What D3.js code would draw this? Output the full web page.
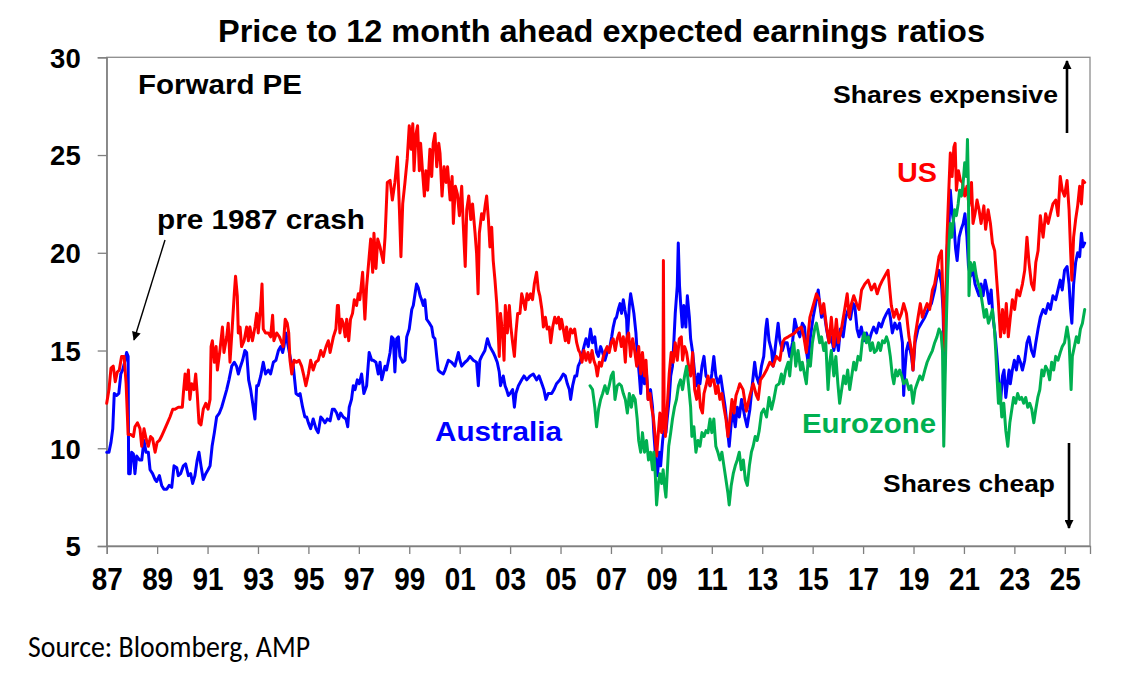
<!DOCTYPE html>
<html><head><meta charset="utf-8">
<script src="https://cdn.jsdelivr.net/npm/d3@7/dist/d3.min.js"></script>
<style>body{margin:0;background:#fff}svg{display:block}</style>
</head><body>
<svg id="c" width="1135" height="677"></svg>
<script>
const chartTitle = "Price to 12 month ahead expected earnings ratios";
const yTicks = [5,10,15,20,25,30];
const xTicks = [1987,1989,1991,1993,1995,1997,1999,2001,2003,2005,2007,2009,2011,2013,2015,2017,2019,2021,2023,2025];
const xTickLabels = ["87","89","91","93","95","97","99","01","03","05","07","09","11","13","15","17","19","21","23","25"];
const seriesNames = ["US","Australia","Eurozone"];

const usPE = [[1987.00,12.3],[1987.09,13.0],[1987.17,14.1],[1987.26,14.2],[1987.34,13.4],[1987.42,13.9],[1987.50,14.0],[1987.59,14.7],[1987.69,14.7],[1987.77,13.3],[1987.85,10.7],[1987.95,10.7],[1988.06,10.6],[1988.12,11.1],[1988.22,11.3],[1988.32,11.0],[1988.39,10.1],[1988.48,11.0],[1988.56,10.5],[1988.65,10.1],[1988.74,10.6],[1988.82,10.5],[1988.92,9.8],[1989.00,10.3],[1989.09,10.4],[1989.17,10.6],[1989.31,11.0],[1989.41,11.3],[1989.51,11.6],[1989.62,12.0],[1989.71,12.0],[1989.84,12.1],[1990.00,12.1],[1990.04,12.8],[1990.11,13.8],[1990.17,13.0],[1990.24,14.0],[1990.30,12.5],[1990.37,13.3],[1990.46,13.0],[1990.53,13.8],[1990.59,12.8],[1990.66,11.3],[1990.74,11.2],[1990.83,12.0],[1990.93,12.3],[1991.02,12.0],[1991.10,12.5],[1991.14,15.2],[1991.19,15.5],[1991.27,14.4],[1991.34,15.2],[1991.39,14.0],[1991.49,15.0],[1991.59,16.2],[1991.65,14.9],[1991.76,15.7],[1991.82,16.4],[1991.89,14.4],[1991.98,16.2],[1992.06,17.9],[1992.11,18.8],[1992.18,17.8],[1992.22,15.9],[1992.29,16.2],[1992.35,15.2],[1992.45,15.5],[1992.55,16.2],[1992.62,15.5],[1992.68,16.2],[1992.78,15.5],[1992.88,16.2],[1992.95,16.9],[1993.01,15.9],[1993.11,17.3],[1993.16,18.4],[1993.21,16.1],[1993.30,15.9],[1993.41,15.9],[1993.50,15.7],[1993.58,16.8],[1993.63,15.5],[1993.74,15.9],[1993.85,15.7],[1993.91,15.5],[1994.00,15.2],[1994.08,16.6],[1994.16,16.4],[1994.22,15.9],[1994.27,14.5],[1994.34,13.8],[1994.43,14.5],[1994.53,14.4],[1994.63,14.5],[1994.73,14.2],[1994.82,13.7],[1994.90,13.2],[1995.00,13.8],[1995.09,14.5],[1995.19,14.0],[1995.29,14.4],[1995.39,14.5],[1995.49,15.0],[1995.59,14.7],[1995.70,15.2],[1995.79,15.5],[1995.86,14.9],[1995.99,15.7],[1996.09,16.1],[1996.15,17.3],[1996.19,17.3],[1996.25,15.9],[1996.32,16.6],[1996.38,16.4],[1996.46,15.7],[1996.52,16.6],[1996.60,15.5],[1996.67,16.6],[1996.75,16.9],[1996.82,17.6],[1996.91,17.3],[1996.98,17.9],[1997.04,17.6],[1997.15,19.0],[1997.24,16.6],[1997.31,18.3],[1997.41,19.8],[1997.47,20.7],[1997.55,19.0],[1997.60,21.0],[1997.68,19.2],[1997.75,20.7],[1997.84,20.3],[1997.97,19.5],[1998.04,20.8],[1998.13,23.6],[1998.24,23.7],[1998.33,22.7],[1998.43,23.6],[1998.53,24.9],[1998.61,22.2],[1998.67,19.8],[1998.74,22.5],[1998.83,23.6],[1998.92,24.8],[1999.00,26.5],[1999.07,25.3],[1999.14,26.6],[1999.19,24.2],[1999.27,26.1],[1999.33,26.5],[1999.40,24.2],[1999.45,25.6],[1999.53,24.1],[1999.60,22.9],[1999.66,24.2],[1999.73,23.2],[1999.82,25.3],[1999.89,23.9],[1999.95,25.6],[2000.02,26.1],[2000.09,24.4],[2000.17,25.6],[2000.22,25.1],[2000.30,22.9],[2000.38,24.4],[2000.46,23.6],[2000.52,24.4],[2000.62,22.7],[2000.70,23.9],[2000.75,21.5],[2000.83,23.4],[2000.91,23.0],[2000.99,21.9],[2001.08,23.4],[2001.14,21.5],[2001.22,19.3],[2001.28,22.2],[2001.36,22.9],[2001.44,21.7],[2001.51,22.5],[2001.61,21.0],[2001.67,20.0],[2001.73,17.9],[2001.78,21.0],[2001.87,22.0],[2001.94,21.7],[2002.02,22.5],[2002.07,22.9],[2002.14,21.7],[2002.20,20.3],[2002.27,21.3],[2002.33,19.6],[2002.40,18.6],[2002.47,17.4],[2002.53,15.9],[2002.57,14.7],[2002.62,16.9],[2002.70,15.9],[2002.76,14.5],[2002.81,17.3],[2002.89,15.9],[2002.97,17.3],[2003.03,16.2],[2003.10,15.4],[2003.17,14.7],[2003.23,15.9],[2003.30,16.9],[2003.39,16.9],[2003.46,17.9],[2003.52,17.6],[2003.60,17.1],[2003.67,17.9],[2003.73,17.6],[2003.81,17.9],[2003.89,17.6],[2003.96,18.4],[2004.05,19.0],[2004.12,18.1],[2004.18,17.8],[2004.26,17.1],[2004.32,16.2],[2004.40,16.7],[2004.47,16.1],[2004.55,16.2],[2004.61,15.4],[2004.69,16.2],[2004.77,16.7],[2004.84,16.4],[2004.92,16.7],[2004.98,16.1],[2005.04,16.6],[2005.11,16.1],[2005.19,15.5],[2005.24,16.2],[2005.32,15.4],[2005.40,16.1],[2005.48,15.9],[2005.56,16.1],[2005.64,15.4],[2005.72,15.0],[2005.77,14.9],[2005.85,14.4],[2005.93,15.0],[2006.01,14.5],[2006.09,14.9],[2006.17,14.4],[2006.25,15.0],[2006.32,14.5],[2006.40,14.2],[2006.46,13.7],[2006.54,14.4],[2006.62,14.2],[2006.70,14.7],[2006.78,15.0],[2006.85,15.2],[2006.93,14.9],[2007.01,15.4],[2007.09,15.6],[2007.17,15.0],[2007.25,15.6],[2007.33,15.9],[2007.41,15.2],[2007.49,15.7],[2007.57,14.4],[2007.62,15.6],[2007.70,15.9],[2007.78,14.7],[2007.86,15.6],[2007.94,15.0],[2008.02,14.2],[2008.10,15.2],[2008.18,13.8],[2008.25,14.9],[2008.33,13.7],[2008.39,14.5],[2008.47,12.5],[2008.55,12.8],[2008.61,12.1],[2008.68,11.6],[2008.74,10.8],[2008.81,9.6],[2008.88,10.8],[2008.94,11.8],[2009.01,10.8],[2009.06,11.5],[2009.08,19.6],[2009.11,12.0],[2009.16,10.6],[2009.25,12.5],[2009.31,13.8],[2009.39,14.9],[2009.47,14.4],[2009.55,15.4],[2009.63,14.5],[2009.71,15.6],[2009.79,15.7],[2009.84,14.5],[2009.92,15.2],[2010.00,14.9],[2010.08,14.2],[2010.16,13.7],[2010.24,14.9],[2010.32,13.0],[2010.40,12.5],[2010.48,13.2],[2010.55,12.1],[2010.63,11.8],[2010.69,12.8],[2010.77,13.2],[2010.85,13.7],[2010.93,13.2],[2011.00,13.5],[2011.08,13.5],[2011.16,12.8],[2011.24,13.2],[2011.32,12.5],[2011.40,12.8],[2011.48,12.1],[2011.56,11.5],[2011.64,10.6],[2011.72,11.5],[2011.80,12.5],[2011.88,11.8],[2011.96,12.7],[2012.04,13.0],[2012.11,13.3],[2012.24,13.0],[2012.37,11.9],[2012.51,12.7],[2012.64,13.3],[2012.77,12.7],[2012.84,12.5],[2012.93,13.5],[2013.04,13.7],[2013.17,14.0],[2013.30,14.4],[2013.43,14.2],[2013.56,14.7],[2013.70,14.5],[2013.80,15.4],[2013.89,15.6],[2014.03,15.7],[2014.16,15.8],[2014.29,15.9],[2014.42,16.1],[2014.55,16.2],[2014.65,15.7],[2014.75,14.9],[2014.89,16.7],[2015.02,17.3],[2015.15,17.9],[2015.26,17.6],[2015.35,16.9],[2015.44,17.4],[2015.55,16.2],[2015.65,15.4],[2015.74,16.7],[2015.84,15.2],[2015.94,16.6],[2016.02,15.4],[2016.14,16.1],[2016.27,17.1],[2016.37,17.9],[2016.45,16.7],[2016.54,17.4],[2016.63,17.8],[2016.74,17.4],[2016.84,17.1],[2016.94,18.1],[2017.07,18.4],[2017.20,18.6],[2017.33,18.1],[2017.46,18.4],[2017.56,17.9],[2017.66,18.3],[2017.77,18.6],[2017.90,18.9],[2017.99,19.1],[2018.06,18.1],[2018.12,17.3],[2018.22,16.7],[2018.32,17.1],[2018.43,16.6],[2018.52,16.9],[2018.61,17.4],[2018.72,16.9],[2018.82,15.7],[2018.92,15.0],[2018.98,14.0],[2019.06,15.7],[2019.18,16.7],[2019.27,17.4],[2019.35,16.7],[2019.45,17.1],[2019.54,17.4],[2019.64,17.1],[2019.75,18.1],[2019.84,18.4],[2019.93,19.1],[2020.01,19.8],[2020.11,20.1],[2020.17,17.6],[2020.23,15.0],[2020.28,17.4],[2020.33,20.8],[2020.40,23.2],[2020.46,25.1],[2020.53,23.9],[2020.60,25.4],[2020.65,25.6],[2020.70,23.2],[2020.78,24.2],[2020.86,23.7],[2020.94,23.6],[2021.03,22.9],[2021.12,23.4],[2021.20,22.4],[2021.30,23.6],[2021.36,21.5],[2021.44,22.0],[2021.52,22.7],[2021.60,22.2],[2021.68,21.5],[2021.79,22.4],[2021.86,21.2],[2021.96,22.2],[2022.05,21.5],[2022.13,20.5],[2022.22,20.1],[2022.29,18.8],[2022.37,17.4],[2022.45,15.7],[2022.53,17.1],[2022.60,15.9],[2022.68,17.4],[2022.76,15.7],[2022.84,16.7],[2022.92,17.6],[2023.01,17.1],[2023.11,18.1],[2023.21,17.8],[2023.32,18.4],[2023.41,19.1],[2023.50,20.8],[2023.58,19.5],[2023.68,18.4],[2023.77,18.1],[2023.85,19.5],[2023.94,20.1],[2024.03,21.9],[2024.14,20.8],[2024.24,22.0],[2024.34,21.5],[2024.43,22.0],[2024.53,22.5],[2024.64,22.7],[2024.73,21.9],[2024.82,23.9],[2024.90,23.2],[2024.99,22.9],[2025.09,23.7],[2025.17,22.2],[2025.23,20.1],[2025.28,18.6],[2025.35,20.8],[2025.43,21.7],[2025.51,22.4],[2025.59,23.4],[2025.66,22.5],[2025.72,23.7],[2025.79,23.6]];

const ausPE = [[1987.00,9.8],[1987.09,9.8],[1987.17,10.3],[1987.24,11.0],[1987.30,12.8],[1987.40,12.7],[1987.48,12.8],[1987.56,13.8],[1987.63,14.0],[1987.73,14.5],[1987.79,14.9],[1987.85,14.7],[1987.87,8.7],[1987.93,8.7],[1987.99,9.8],[1988.06,9.7],[1988.12,8.7],[1988.19,9.6],[1988.30,9.4],[1988.39,9.4],[1988.48,10.4],[1988.56,9.8],[1988.65,9.8],[1988.72,8.9],[1988.82,8.7],[1988.92,8.4],[1988.98,8.3],[1989.09,8.6],[1989.18,8.1],[1989.27,7.9],[1989.38,7.9],[1989.48,8.1],[1989.58,8.0],[1989.67,9.1],[1989.78,9.0],[1989.84,8.6],[1989.93,8.7],[1990.04,9.1],[1990.13,9.2],[1990.24,8.6],[1990.33,8.7],[1990.41,8.2],[1990.50,8.6],[1990.59,9.4],[1990.66,9.8],[1990.74,9.1],[1990.83,8.4],[1990.93,8.7],[1991.02,8.9],[1991.10,9.1],[1991.18,10.1],[1991.27,10.8],[1991.36,11.6],[1991.47,11.8],[1991.56,12.1],[1991.65,12.5],[1991.76,13.0],[1991.85,13.5],[1991.96,14.2],[1992.06,14.4],[1992.15,14.2],[1992.22,13.8],[1992.31,14.2],[1992.39,14.5],[1992.48,15.0],[1992.55,14.9],[1992.63,13.5],[1992.71,13.0],[1992.79,12.3],[1992.88,11.5],[1992.95,13.2],[1993.01,13.2],[1993.11,13.7],[1993.21,14.4],[1993.30,13.8],[1993.41,14.0],[1993.50,13.8],[1993.61,14.4],[1993.71,14.5],[1993.81,15.0],[1993.90,15.2],[1993.98,14.9],[1994.03,15.2],[1994.11,15.9],[1994.20,15.2],[1994.30,14.5],[1994.40,14.2],[1994.51,12.8],[1994.60,12.7],[1994.67,12.8],[1994.77,12.1],[1994.86,11.6],[1994.93,11.6],[1995.00,11.3],[1995.09,11.0],[1995.19,11.5],[1995.30,11.0],[1995.39,10.8],[1995.49,11.6],[1995.56,11.5],[1995.66,11.3],[1995.75,11.5],[1995.86,11.4],[1995.95,12.0],[1996.03,12.0],[1996.12,11.8],[1996.20,11.5],[1996.28,11.8],[1996.38,11.6],[1996.49,11.5],[1996.56,11.1],[1996.62,12.1],[1996.71,12.5],[1996.78,13.2],[1996.85,13.0],[1996.94,13.5],[1997.02,13.3],[1997.11,13.8],[1997.20,12.8],[1997.31,13.2],[1997.41,14.9],[1997.51,14.5],[1997.57,14.5],[1997.68,14.4],[1997.77,13.8],[1997.84,14.4],[1997.91,13.5],[1998.04,14.2],[1998.10,14.0],[1998.24,14.9],[1998.30,15.7],[1998.37,15.6],[1998.43,13.9],[1998.50,15.6],[1998.57,15.7],[1998.63,14.7],[1998.74,14.4],[1998.83,14.5],[1998.90,15.7],[1999.00,16.1],[1999.10,17.1],[1999.16,17.3],[1999.23,17.9],[1999.29,18.4],[1999.36,18.2],[1999.43,17.8],[1999.49,17.6],[1999.56,17.3],[1999.62,17.6],[1999.69,16.6],[1999.80,16.4],[1999.89,16.2],[1999.95,15.7],[2000.02,15.6],[2000.09,14.7],[2000.15,14.0],[2000.22,13.9],[2000.35,13.8],[2000.42,14.0],[2000.55,14.5],[2000.68,14.4],[2000.81,14.2],[2000.95,14.9],[2001.01,14.5],[2001.08,14.2],[2001.21,14.4],[2001.30,14.5],[2001.41,14.7],[2001.54,14.5],[2001.67,14.4],[2001.74,13.2],[2001.80,14.5],[2001.87,14.7],[2002.00,15.0],[2002.10,15.6],[2002.20,15.2],[2002.33,14.9],[2002.40,14.7],[2002.49,14.4],[2002.57,13.9],[2002.62,13.2],[2002.73,13.7],[2002.80,13.2],[2002.86,13.0],[2002.93,12.7],[2003.00,12.8],[2003.10,13.0],[2003.17,12.1],[2003.23,12.8],[2003.33,13.2],[2003.46,13.5],[2003.55,13.7],[2003.66,13.5],[2003.79,13.7],[2003.92,13.8],[2004.05,13.5],[2004.15,13.7],[2004.26,13.3],[2004.34,13.0],[2004.42,12.5],[2004.51,12.8],[2004.65,12.8],[2004.74,13.0],[2004.84,13.3],[2004.98,13.5],[2005.11,13.8],[2005.19,13.7],[2005.27,13.3],[2005.35,13.0],[2005.40,12.5],[2005.48,13.2],[2005.57,13.7],[2005.64,13.7],[2005.70,14.2],[2005.77,14.4],[2005.84,14.7],[2005.93,15.2],[2006.01,15.6],[2006.10,15.2],[2006.19,16.1],[2006.27,15.4],[2006.36,15.7],[2006.43,14.9],[2006.50,14.7],[2006.59,15.2],[2006.67,14.9],[2006.76,14.5],[2006.85,14.9],[2006.96,15.2],[2007.03,15.7],[2007.09,16.2],[2007.16,16.6],[2007.22,16.7],[2007.29,17.1],[2007.36,17.4],[2007.42,16.9],[2007.49,17.6],[2007.55,17.1],[2007.62,16.6],[2007.65,15.6],[2007.73,17.3],[2007.78,17.9],[2007.86,17.3],[2007.91,16.9],[2007.99,15.9],[2008.04,14.9],[2008.12,13.8],[2008.18,12.8],[2008.25,14.2],[2008.33,13.3],[2008.41,13.8],[2008.48,12.5],[2008.57,13.0],[2008.65,12.1],[2008.70,10.8],[2008.78,9.4],[2008.84,8.6],[2008.92,9.8],[2008.97,9.1],[2009.05,10.4],[2009.10,10.9],[2009.18,10.8],[2009.23,11.5],[2009.31,12.5],[2009.37,13.7],[2009.44,14.2],[2009.50,15.6],[2009.55,16.9],[2009.63,18.3],[2009.67,20.5],[2009.72,18.3],[2009.77,17.3],[2009.83,16.2],[2009.89,17.3],[2009.97,16.2],[2010.03,17.8],[2010.11,16.7],[2010.16,15.6],[2010.24,14.9],[2010.33,13.7],[2010.40,13.2],[2010.46,13.8],[2010.53,13.3],[2010.61,14.2],[2010.69,14.7],[2010.77,13.7],[2010.86,13.5],[2010.93,13.2],[2011.00,13.8],[2011.08,14.7],[2011.16,13.7],[2011.25,13.3],[2011.35,13.7],[2011.45,12.8],[2011.53,12.1],[2011.61,11.1],[2011.69,10.1],[2011.77,11.3],[2011.85,11.8],[2011.93,11.1],[2012.01,12.1],[2012.09,11.6],[2012.18,12.5],[2012.31,11.6],[2012.40,11.1],[2012.51,12.0],[2012.61,13.3],[2012.70,14.4],[2012.77,13.7],[2012.87,13.3],[2012.97,14.2],[2013.06,14.7],[2013.14,16.1],[2013.19,16.6],[2013.27,15.5],[2013.37,15.0],[2013.43,14.2],[2013.54,15.4],[2013.63,16.4],[2013.70,15.5],[2013.80,15.0],[2013.89,15.4],[2013.99,15.4],[2014.09,14.7],[2014.20,15.4],[2014.29,16.6],[2014.38,16.1],[2014.49,15.7],[2014.59,16.4],[2014.68,16.2],[2014.75,15.0],[2014.82,14.4],[2014.91,15.7],[2015.02,16.7],[2015.12,17.4],[2015.22,18.1],[2015.28,17.4],[2015.35,16.7],[2015.44,17.1],[2015.55,16.1],[2015.65,15.4],[2015.74,15.7],[2015.84,15.0],[2015.94,15.7],[2016.02,15.0],[2016.10,16.1],[2016.21,15.7],[2016.31,16.7],[2016.41,17.1],[2016.50,16.6],[2016.60,17.4],[2016.67,17.3],[2016.76,16.1],[2016.84,15.7],[2016.93,16.2],[2017.03,15.5],[2017.13,15.9],[2017.24,15.5],[2017.33,15.9],[2017.42,16.2],[2017.53,15.9],[2017.63,16.4],[2017.72,16.2],[2017.82,16.6],[2017.93,16.9],[2018.02,17.1],[2018.08,16.7],[2018.16,15.9],[2018.26,16.4],[2018.35,16.1],[2018.45,16.4],[2018.56,15.4],[2018.61,12.7],[2018.66,14.0],[2018.72,15.0],[2018.80,15.4],[2018.92,14.7],[2018.98,14.0],[2019.06,15.4],[2019.18,16.1],[2019.31,16.4],[2019.45,16.7],[2019.58,17.1],[2019.71,17.4],[2019.84,18.1],[2019.93,18.8],[2020.01,19.1],[2020.11,18.4],[2020.17,17.1],[2020.23,13.8],[2020.28,16.5],[2020.33,20.2],[2020.41,21.5],[2020.46,23.2],[2020.52,22.2],[2020.60,21.5],[2020.67,20.2],[2020.73,19.6],[2020.81,20.8],[2020.89,21.2],[2020.97,21.5],[2021.04,22.0],[2021.12,20.8],[2021.18,19.3],[2021.26,18.8],[2021.36,19.1],[2021.44,18.4],[2021.52,18.1],[2021.60,17.8],[2021.68,18.4],[2021.76,17.8],[2021.84,18.6],[2021.92,18.1],[2022.00,17.4],[2022.08,18.1],[2022.15,16.7],[2022.23,15.9],[2022.31,14.7],[2022.39,13.3],[2022.46,12.5],[2022.53,13.7],[2022.59,14.0],[2022.66,12.6],[2022.72,13.3],[2022.79,14.0],[2022.84,13.3],[2022.92,14.0],[2023.00,14.5],[2023.08,14.0],[2023.16,14.7],[2023.24,14.4],[2023.32,14.0],[2023.41,14.5],[2023.50,15.4],[2023.58,15.7],[2023.68,15.0],[2023.77,14.7],[2023.85,15.4],[2023.94,16.1],[2024.03,16.7],[2024.14,17.1],[2024.24,16.9],[2024.34,17.4],[2024.43,17.1],[2024.53,17.8],[2024.64,17.6],[2024.73,18.1],[2024.82,18.6],[2024.90,18.1],[2024.99,19.1],[2025.09,19.3],[2025.17,18.4],[2025.23,17.1],[2025.28,16.4],[2025.35,18.4],[2025.43,19.5],[2025.51,20.0],[2025.59,19.8],[2025.66,21.0],[2025.72,20.3],[2025.79,20.5]];

const euroPE = [[2006.17,13.2],[2006.27,13.0],[2006.36,12.1],[2006.43,11.1],[2006.51,12.0],[2006.59,12.5],[2006.67,12.8],[2006.76,13.2],[2006.85,12.8],[2006.93,13.2],[2007.01,13.7],[2007.09,13.9],[2007.16,12.5],[2007.25,13.2],[2007.33,13.3],[2007.41,13.2],[2007.49,12.8],[2007.57,12.5],[2007.65,11.8],[2007.73,12.8],[2007.81,12.1],[2007.88,12.7],[2007.96,12.5],[2008.04,11.5],[2008.10,10.4],[2008.18,9.8],[2008.25,10.8],[2008.33,9.8],[2008.41,10.4],[2008.49,9.4],[2008.57,9.8],[2008.65,8.9],[2008.70,9.8],[2008.76,8.6],[2008.81,7.1],[2008.88,8.2],[2008.94,8.7],[2009.01,8.2],[2009.07,8.9],[2009.14,7.9],[2009.18,7.5],[2009.23,8.7],[2009.29,10.1],[2009.37,10.8],[2009.44,11.5],[2009.52,12.1],[2009.60,12.5],[2009.68,13.2],[2009.76,13.5],[2009.84,13.0],[2009.92,13.7],[2010.00,14.2],[2010.08,13.2],[2010.16,12.1],[2010.21,10.6],[2010.29,11.1],[2010.37,9.8],[2010.45,10.4],[2010.53,10.1],[2010.61,10.8],[2010.69,10.6],[2010.77,10.9],[2010.85,10.8],[2010.93,11.5],[2011.00,10.8],[2011.08,11.5],[2011.16,10.1],[2011.24,9.8],[2011.32,9.4],[2011.40,9.8],[2011.48,9.1],[2011.56,8.4],[2011.64,7.7],[2011.69,7.1],[2011.77,8.1],[2011.85,8.7],[2011.93,9.1],[2012.01,9.4],[2012.09,9.8],[2012.17,8.9],[2012.25,9.4],[2012.33,8.4],[2012.41,8.1],[2012.49,9.1],[2012.57,9.8],[2012.64,10.1],[2012.72,10.6],[2012.80,10.4],[2012.88,10.9],[2012.97,11.8],[2013.06,12.0],[2013.17,11.6],[2013.27,12.6],[2013.37,12.0],[2013.46,12.5],[2013.56,13.2],[2013.67,13.3],[2013.76,13.8],[2013.83,13.3],[2013.93,14.0],[2014.03,14.4],[2014.09,13.7],[2014.16,14.7],[2014.25,15.4],[2014.33,14.2],[2014.42,15.0],[2014.52,14.0],[2014.59,14.4],[2014.69,13.7],[2014.75,13.3],[2014.82,14.5],[2014.91,14.2],[2014.99,15.4],[2015.08,16.1],[2015.15,16.4],[2015.22,15.9],[2015.28,15.4],[2015.35,15.7],[2015.44,15.0],[2015.52,15.4],[2015.61,13.0],[2015.68,14.4],[2015.74,15.0],[2015.84,13.7],[2015.92,14.7],[2016.00,13.3],[2016.07,12.3],[2016.15,13.0],[2016.23,13.7],[2016.31,13.3],[2016.39,14.0],[2016.47,13.0],[2016.55,13.7],[2016.63,14.4],[2016.71,14.0],[2016.80,14.7],[2016.89,14.5],[2016.97,15.5],[2017.05,15.9],[2017.13,15.4],[2017.21,15.7],[2017.29,15.0],[2017.37,15.4],[2017.45,14.9],[2017.53,15.0],[2017.61,15.4],[2017.69,15.0],[2017.77,15.5],[2017.85,15.4],[2017.93,15.7],[2018.00,15.4],[2018.08,14.7],[2018.16,13.7],[2018.22,13.3],[2018.30,14.0],[2018.37,13.7],[2018.45,14.0],[2018.53,13.7],[2018.61,13.3],[2018.72,13.5],[2018.82,13.0],[2018.90,13.2],[2018.98,12.3],[2019.06,13.0],[2019.14,13.3],[2019.25,13.7],[2019.35,13.5],[2019.45,14.0],[2019.54,14.4],[2019.64,14.7],[2019.75,15.0],[2019.84,15.4],[2019.93,15.7],[2020.01,16.1],[2020.09,15.9],[2020.15,15.0],[2020.20,10.1],[2020.25,13.3],[2020.30,16.4],[2020.36,19.1],[2020.41,20.5],[2020.46,21.5],[2020.52,20.8],[2020.57,21.5],[2020.63,22.2],[2020.70,21.9],[2020.77,22.5],[2020.83,23.2],[2020.90,22.9],[2020.97,23.6],[2021.03,24.6],[2021.10,23.9],[2021.14,25.8],[2021.18,23.2],[2021.20,17.8],[2021.26,19.5],[2021.34,19.1],[2021.41,19.5],[2021.49,18.8],[2021.57,18.4],[2021.65,18.1],[2021.73,17.4],[2021.81,16.7],[2021.89,17.1],[2021.97,16.4],[2022.05,16.7],[2022.13,17.1],[2022.21,16.1],[2022.26,15.0],[2022.31,13.7],[2022.37,12.3],[2022.42,13.3],[2022.50,11.6],[2022.58,12.3],[2022.66,10.9],[2022.74,10.1],[2022.82,11.3],[2022.90,12.0],[2022.97,12.6],[2023.05,12.3],[2023.13,12.8],[2023.21,12.5],[2023.29,12.6],[2023.37,12.3],[2023.45,12.6],[2023.53,12.1],[2023.61,12.3],[2023.69,12.0],[2023.77,11.3],[2023.85,12.0],[2023.93,12.6],[2024.01,13.0],[2024.09,14.0],[2024.16,13.7],[2024.24,14.2],[2024.32,14.0],[2024.40,13.5],[2024.48,14.4],[2024.56,14.0],[2024.64,14.7],[2024.73,14.5],[2024.82,14.9],[2024.90,15.2],[2024.99,15.4],[2025.09,16.2],[2025.17,15.5],[2025.25,13.0],[2025.30,14.7],[2025.38,15.2],[2025.46,15.7],[2025.54,15.4],[2025.62,16.1],[2025.70,16.4],[2025.79,17.1]];

const svg = d3.select("#c");
const W = 1135, H = 677;
svg.append("rect").attr("width", W).attr("height", H).attr("fill", "#fff");

const box = {left: 106.7, right: 1090, top: 57.3, bottom: 546};
const x = d3.scaleLinear().domain([1987, 2026]).range([box.left, box.right]);
const y = d3.scaleLinear().domain([5, 30]).range([box.bottom, box.top]);

const FONT = "'Liberation Sans', Arial, Helvetica, sans-serif";
const NARROW = "'Liberation Sans Narrow', 'Arial Narrow', 'Liberation Sans', Arial, sans-serif";

// plot frame
svg.append("rect")
  .attr("x", box.left).attr("y", box.top)
  .attr("width", box.right - box.left).attr("height", box.bottom - box.top)
  .attr("fill", "none").attr("stroke", "#8c8c8c").attr("stroke-width", 1.3);

// y axis
const yAxis = svg.append("g").attr("transform", `translate(${box.left},0)`)
  .call(d3.axisLeft(y).tickValues(yTicks).tickSize(9).tickPadding(17).tickFormat(d3.format("d")));
yAxis.select(".domain").attr("stroke", "#7f7f7f").attr("stroke-width", 1.3);
yAxis.selectAll(".tick line").attr("stroke", "#7f7f7f").attr("stroke-width", 1.3);
yAxis.selectAll(".tick text")
  .attr("font-family", FONT).attr("font-weight", "bold").attr("font-size", 27.5)
  .attr("fill", "#000").attr("dy", "0.36em");

// x axis
const xAxis = svg.append("g").attr("transform", `translate(0,${box.bottom})`)
  .call(d3.axisBottom(x).tickValues(xTicks).tickSize(8).tickPadding(14)
    .tickFormat((d, i) => xTickLabels[i]));
xAxis.select(".domain").attr("stroke", "#7f7f7f").attr("stroke-width", 1.3);
xAxis.selectAll(".tick line").attr("stroke", "#7f7f7f").attr("stroke-width", 1.3);
xAxis.selectAll(".tick text")
  .attr("font-family", NARROW).attr("font-weight", "bold").attr("font-size", 31)
  .attr("fill", "#000").attr("dy", "0.71em")
  .attr("textLength", 31).attr("lengthAdjust", "spacingAndGlyphs");

// lines
const line = d3.line().x(d => x(d[0])).y(d => y(d[1]));
const series = [
  {name: seriesNames[1], data: ausPE, color: "#0000ff"},
  {name: seriesNames[0], data: usPE, color: "#ff0000"},
  {name: seriesNames[2], data: euroPE, color: "#00b050"}
];
svg.append("g").selectAll("path").data(series).join("path")
  .attr("d", d => line(d.data))
  .attr("fill", "none").attr("stroke", d => d.color)
  .attr("stroke-width", 3).attr("stroke-linejoin", "round").attr("stroke-linecap", "round");

// arrow markers
const defs = svg.append("defs");
defs.append("marker").attr("id", "ahSmall").attr("viewBox", "0 0 10 10")
  .attr("refX", 9).attr("refY", 5).attr("markerUnits", "userSpaceOnUse")
  .attr("markerWidth", 11).attr("markerHeight", 9).attr("orient", "auto")
  .append("path").attr("d", "M0,0 L10,5 L0,10 Z").attr("fill", "#000");
defs.append("marker").attr("id", "ahBig").attr("viewBox", "0 0 10 10")
  .attr("refX", 9).attr("refY", 5).attr("markerUnits", "userSpaceOnUse")
  .attr("markerWidth", 12).attr("markerHeight", 9).attr("orient", "auto")
  .append("path").attr("d", "M0,0 L10,5 L0,10 Z").attr("fill", "#000");

// text helper
function label(txt, x0, yb, size, width, color, family) {
  const t = svg.append("text").attr("x", x0).attr("y", yb)
    .attr("font-family", family || FONT).attr("font-weight", "bold")
    .attr("font-size", size).attr("fill", color || "#000").text(txt);
  if (width) t.attr("textLength", width).attr("lengthAdjust", "spacingAndGlyphs");
  return t;
}

// title
label(chartTitle, 218, 42, 31, 767);

// annotations
label("Forward PE", 138, 94, 27.5, 164);
label("pre 1987 crash", 157, 229, 27.5, 208);
label(seriesNames[1], 435, 441, 27.5, 127, "#0000ff");
label(seriesNames[2], 802, 433, 27.5, 134, "#00b050");
label(seriesNames[0], 897, 182, 27.5, 40, "#ff0000");
label("Shares expensive", 833, 103, 24.5, 225);
label("Shares cheap", 883, 492, 24.5, 172);

// arrows
svg.append("line").attr("x1", 165).attr("y1", 240).attr("x2", 134).attr("y2", 340)
  .attr("stroke", "#000").attr("stroke-width", 1.4).attr("marker-end", "url(#ahSmall)");
svg.append("line").attr("x1", 1067).attr("y1", 133).attr("x2", 1067).attr("y2", 61)
  .attr("stroke", "#000").attr("stroke-width", 2.6).attr("marker-end", "url(#ahBig)");
svg.append("line").attr("x1", 1069).attr("y1", 443).attr("x2", 1069).attr("y2", 528)
  .attr("stroke", "#000").attr("stroke-width", 2.6).attr("marker-end", "url(#ahBig)");

// source
svg.append("text").attr("x", 28).attr("y", 657)
  .attr("font-family", "Carlito, 'Liberation Sans Narrow', 'Arial Narrow', sans-serif")
  .attr("font-size", 30).attr("fill", "#000")
  .attr("textLength", 282).attr("lengthAdjust", "spacingAndGlyphs")
  .text("Source: Bloomberg, AMP");
</script>
</body></html>
